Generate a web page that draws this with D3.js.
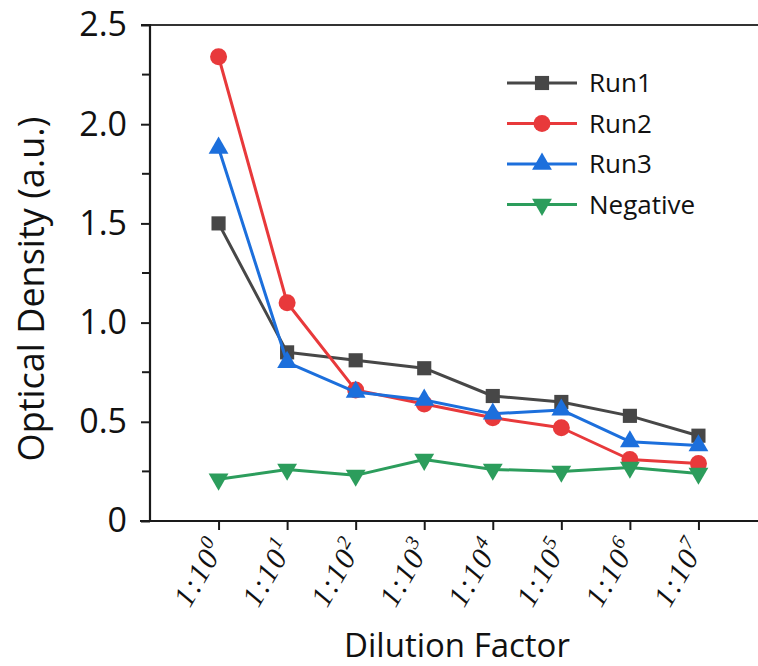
<!DOCTYPE html>
<html><head><meta charset="utf-8">
<script src="https://cdn.jsdelivr.net/npm/d3@7"></script>
<style>body{margin:0;background:#fff}svg{display:block}</style>
</head><body>
<svg id="c" width="758" height="666"></svg>
<script>
const categories = ["0","1","2","3","4","5","6","7"]; // exponents of 1:10^n
const run1 = [1.50, 0.85, 0.81, 0.77, 0.63, 0.60, 0.53, 0.43];
const run2 = [2.34, 1.10, 0.66, 0.59, 0.52, 0.47, 0.31, 0.29];
const run3 = [1.88, 0.80, 0.65, 0.61, 0.54, 0.56, 0.40, 0.38];
const negative = [0.21, 0.26, 0.23, 0.31, 0.26, 0.25, 0.27, 0.24];
const yTicks = [0, 0.5, 1.0, 1.5, 2.0, 2.5];
const yMinor = [0.25, 0.75, 1.25, 1.75, 2.25];
const seriesNames = ["Run1", "Run2", "Run3", "Negative"];

const colors = ["#474747", "#e8393b", "#1c6fdc", "#2c9d5c"];
const shapes = [d3.symbolSquare, d3.symbolCircle, d3.symbolTriangle, d3.symbolTriangle];
const sizes = [200, 227, 170, 170];
const rots = [0, 0, 0, 180];
const seriesData = [run1, run2, run3, negative];

const svg = d3.select("#c");
const x = d3.scaleLinear().domain([-1, 8]).range([150, 767]);
const y = d3.scaleLinear().domain([0, 2.5]).range([521, 25]);
const ink = "#1a1a1a";

// frame top line
svg.append("line").attr("x1", 150).attr("x2", 770).attr("y1", y(2.5)).attr("y2", y(2.5))
  .attr("stroke", "#333").attr("stroke-width", 2.2);

// y axis
const gy = svg.append("g").attr("transform", "translate(150,0)")
  .call(d3.axisLeft(y).tickValues(yTicks).tickSize(9).tickPadding(14)
    .tickFormat(d => d === 0 ? "0" : d3.format(".1f")(d)));
gy.append("g").selectAll("line").data(yMinor).join("line")
  .attr("x1", 0).attr("x2", -8).attr("y1", d => y(d)).attr("y2", d => y(d));
gy.selectAll("line").attr("stroke", ink).attr("stroke-width", 2);
gy.select(".domain").attr("stroke", ink).attr("stroke-width", 2.2).attr("d", `M-9,${y(2.5)}H0V${y(0)}H-9`);
gy.selectAll("text").attr("font-family", "'Open Sans', sans-serif").attr("font-size", 34).attr("fill", "#111");

// x axis
const gx = svg.append("g").attr("transform", `translate(0,${y(0)})`)
  .call(d3.axisBottom(x).tickValues(categories.map((c, i) => i)).tickSize(9).tickFormat(""));
gx.select(".domain").attr("stroke", ink).attr("stroke-width", 2.2).attr("d", `M140,0H770`);
gx.selectAll("line").attr("stroke", ink).attr("stroke-width", 2);
gx.selectAll(".tick").each(function(d, i) {
  const t = d3.select(this).append("text")
    .attr("transform", "translate(7,25) rotate(-60)")
    .attr("text-anchor", "end")
    .attr("font-family", "'Liberation Serif', serif").attr("font-style", "italic")
    .attr("font-size", 30).attr("letter-spacing", 1.5).attr("fill", "#111");
  t.append("tspan").text("1:10");
  t.append("tspan").attr("font-size", 20).attr("dy", -12).text(categories[i]);
});

// axis titles
svg.append("text").attr("transform", "translate(44,289) rotate(-90)").attr("text-anchor", "middle")
  .attr("font-family", "'Open Sans', sans-serif").attr("font-size", 36).attr("fill", "#111")
  .text("Optical Density (a.u.)");
svg.append("text").attr("x", 457).attr("y", 657).attr("text-anchor", "middle")
  .attr("font-family", "'Open Sans', sans-serif").attr("font-size", 33).attr("fill", "#111")
  .text("Dilution Factor");

// series
const line = d3.line().x((d, i) => x(i)).y(d => y(d));
seriesData.forEach((vals, s) => {
  const g = svg.append("g");
  g.append("path").datum(vals).attr("d", line).attr("fill", "none")
    .attr("stroke", colors[s]).attr("stroke-width", 3).attr("stroke-linejoin", "round");
  g.selectAll("path.m").data(vals).join("path").attr("class", "m")
    .attr("d", d3.symbol().type(shapes[s]).size(sizes[s]))
    .attr("transform", (d, i) => `translate(${x(i)},${y(d)}) rotate(${rots[s]})`)
    .attr("fill", colors[s]);
});

// legend
const lg = svg.append("g");
seriesNames.forEach((name, s) => {
  const cy = 83 + s * 40.5;
  lg.append("line").attr("x1", 507).attr("x2", 577).attr("y1", cy).attr("y2", cy)
    .attr("stroke", colors[s]).attr("stroke-width", 3);
  lg.append("path").attr("d", d3.symbol().type(shapes[s]).size(sizes[s]))
    .attr("transform", `translate(542,${cy}) rotate(${rots[s]})`).attr("fill", colors[s]);
  lg.append("text").attr("x", 589).attr("y", cy).attr("dy", "0.35em")
    .attr("font-family", "'Open Sans', sans-serif").attr("font-size", 26).attr("fill", "#111")
    .text(name);
});
</script>
</body></html>
